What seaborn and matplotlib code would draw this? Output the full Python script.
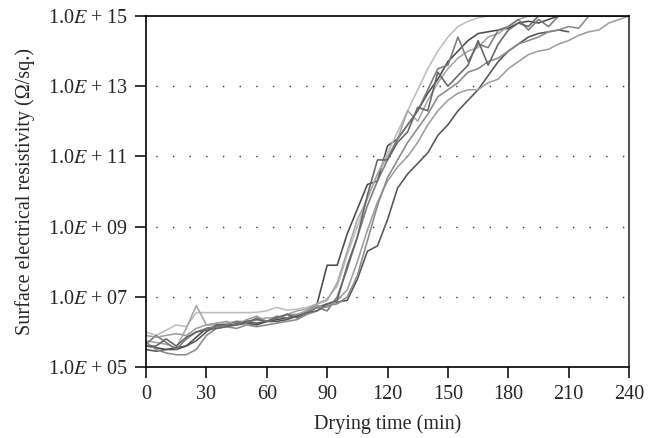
import numpy as np
import pandas as pd
import matplotlib
matplotlib.use("Agg")
import matplotlib.pyplot as plt
import seaborn as sns
from matplotlib.ticker import FixedLocator, FixedFormatter

# drying time in minutes (one reading every 5 min)
drying_time = list(range(0, 241, 5))

# log10 of surface resistivity (ohm/sq.) for each sample
sample_1 = [5.6, 5.55, 5.5, 5.5, 5.6, 5.85, 6.1, 6.15, 6.2, 6.2,
            6.25, 6.2, 6.3, 6.35, 6.4, 6.45, 6.6, 6.8, 7.9, 7.9,
            8.8, 9.5, 10.2, 10.3, 11.3, 11.5, 11.9, 12.3, 12.8, 13.2,
            13.7, 14.0, 14.3, 14.5, 14.55, 14.6, 14.65, 14.8, 14.85, 14.8,
            14.9, 15, 15, 15, 15, 15, 15, 15, 15]
sample_2 = [6.0, 5.9, 6.05, 6.2, 6.15, 6.55, 6.55, 6.55, 6.55, 6.55,
            6.55, 6.56, 6.6, 6.7, 6.62, 6.65, 6.7, 6.8, 6.95, 7.3,
            8.2, 9.0, 9.8, 10.5, 11.1, 11.7, 12.3, 12.9, 13.5, 14.0,
            14.4, 14.7, 14.85, 14.95, 15, 15, 15, 15, 15, 15,
            15, 15, 15, 15, 15, 15, 15, 15, 15]
sample_3 = [5.75, 5.7, 5.65, 5.55, 6.1, 6.75, 6.2, 6.2, 6.25, 6.3,
            6.3, 6.35, 6.4, 6.4, 6.5, 6.6, 6.65, 6.8, 6.9, 7.4,
            8.3, 9.2, 9.8, 10.5, 11.0, 11.5, 12.3, 12.0, 12.6, 13.1,
            13.5, 13.8, 14.0, 14.1, 14.4, 14.5, 14.7, 14.9, 15, 15,
            15, 15, 15, 15, 15, 15, 15, 15, 15]
sample_4 = [5.5, 5.45, 5.5, 5.55, 5.6, 5.75, 6.0, 6.2, 6.2, 6.25,
            6.3, 6.25, 6.3, 6.3, 6.35, 6.45, 6.55, 6.7, 6.8, 6.85,
            6.9, 7.5, 8.3, 8.45, 9.2, 10.1, 10.5, 10.8, 11.1, 11.6,
            11.9, 12.3, 12.6, 12.9, 13.3, 13.7, 14.0, 14.2, 14.4, 14.5,
            14.55, 14.6, 14.55, np.nan, np.nan, np.nan, np.nan, np.nan, np.nan]
sample_5 = [5.65, 5.9, 5.7, 5.5, 5.8, 6.0, 6.1, 6.15, 6.2, 6.3,
            6.25, 6.4, 6.3, 6.45, 6.4, 6.5, 6.55, 6.7, 6.6, 7.0,
            7.8, 8.7, 9.6, 10.3, 10.9, 11.5, 11.9, 12.3, 12.9, 13.5,
            13.6, 14.4, 13.7, 14.2, 14.1, 14.6, 14.7, 14.9, 14.6, 14.9,
            14.7, 15, 15, 15, 15, 15, 15, 15, 15]
sample_6 = [5.9, 5.85, 5.9, 5.95, 5.9, 6.1, 6.2, 6.25, 6.3, 6.2,
            6.35, 6.45, 6.3, 6.4, 6.5, 6.5, 6.6, 6.75, 6.7, 6.9,
            7.2, 8.0, 8.9, 9.7, 10.3, 10.7, 11.0, 11.4, 11.9, 12.3,
            12.6, 12.8, 12.9, 12.9, 13.1, 13.2, 13.5, 13.7, 13.9, 14.0,
            14.05, 14.2, 14.3, 14.45, 14.55, 14.6, 14.8, 14.9, 15]
sample_7 = [5.7, 5.5, 5.4, 5.35, 5.35, 5.5, 5.9, 6.1, 6.15, 6.1,
            6.2, 6.15, 6.2, 6.25, 6.3, 6.35, 6.5, 6.6, 6.75, 6.8,
            7.0, 7.6, 8.6, 9.6, 10.4, 10.9, 11.4, 11.8, 12.2, 12.7,
            12.9, 13.1, 13.4, 13.5, 13.7, 13.8, 14.0, 14.2, 14.3, 14.4,
            14.55, 14.6, 14.7, 14.65, 15, 15, 15, 15, 15]
sample_8 = [5.6, 5.6, 5.8, 5.6, 5.85, 6.0, 6.05, 6.1, 6.15, 6.2,
            6.3, 6.35, 6.3, 6.4, 6.5, 6.4, 6.55, 6.6, 6.8, 6.9,
            7.9, 8.7, 9.9, 10.9, 10.9, 11.4, 11.7, 12.4, 12.3, 13.4,
            13.0, 13.3, 13.6, 14.3, 13.6, 14.2, 14.6, 14.8, 14.7, 15,
            15, 15, 15, 15, 15, 15, 15, 15, 15]

samples = [sample_1, sample_2, sample_3, sample_4,
           sample_5, sample_6, sample_7, sample_8]
line_colors = ["#4a4a4a", "#bdbdbd", "#a6a6a6", "#555555",
               "#7a7a7a", "#9e9e9e", "#8a8a8a", "#656565"]

y_ticks = [1e5, 1e7, 1e9, 1e11, 1e13, 1e15]
y_tick_labels = [r"1.0$E$ + 05", r"1.0$E$ + 07", r"1.0$E$ + 09",
                 r"1.0$E$ + 11", r"1.0$E$ + 13", r"1.0$E$ + 15"]

# long-form table for seaborn
frames = []
for i, vals in enumerate(samples):
    frames.append(pd.DataFrame({
        "time": drying_time,
        "resistivity": 10.0 ** np.array(vals, dtype=float),
        "sample": f"S{i + 1}",
    }))
df = pd.concat(frames, ignore_index=True).dropna()

sns.set_theme(style="white")
plt.rcParams["font.family"] = ["Liberation Serif", "DejaVu Serif"]
plt.rcParams["mathtext.fontset"] = "stix"

fig = plt.figure(figsize=(6.58, 4.38), dpi=100)
ax = fig.add_axes([0.2219, 0.162, 0.7341, 0.8015])

sns.lineplot(data=df, x="time", y="resistivity", hue="sample",
             palette=line_colors, estimator=None, linewidth=1.15,
             legend=False, ax=ax)

ax.set_yscale("log")
ax.set_ylim(1e5, 1e15)
ax.set_xlim(0, 240)
ax.yaxis.set_major_locator(FixedLocator(y_ticks))
ax.yaxis.set_major_formatter(FixedFormatter(y_tick_labels))
ax.yaxis.set_minor_locator(FixedLocator([]))
ax.set_xticks(range(0, 241, 30))

# dotted guide lines
for yv in y_ticks[1:-1]:
    ax.axhline(yv, color="#333333", linestyle=(5, (1, 11)), linewidth=1.0, zorder=0)

for side in ["left", "bottom", "top"]:
    ax.spines[side].set_color("black")
    ax.spines[side].set_linewidth(1.2)
ax.spines["right"].set_color("#555555")
ax.spines["right"].set_linewidth(1.5)

ax.tick_params(axis="both", which="major", direction="out", length=8,
               width=1.1, color="black", labelsize=14.5, pad=5)
ax.tick_params(axis="x", bottom=True, top=False)
ax.tick_params(axis="y", left=True, right=False)

ax.set_xlabel("Drying time (min)", fontsize=14.5, labelpad=7)
ax.set_ylabel("Surface electrical resistivity (Ω/sq.)", fontsize=14.5, labelpad=9)

fig.savefig("out.png", dpi=100)
